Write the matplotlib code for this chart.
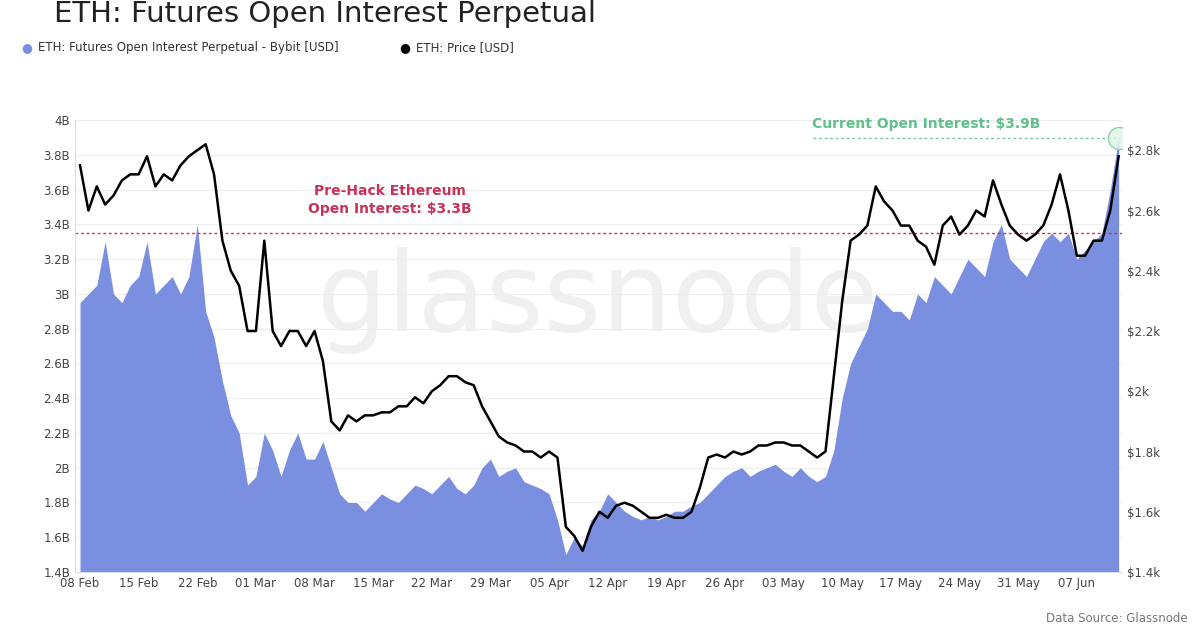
import matplotlib
matplotlib.use("Agg")
import matplotlib.pyplot as plt
import numpy as np
import pandas as pd

dates = pd.date_range("2025-02-08", "2025-06-12", freq="D")
oi = [2.95,3.0,3.05,3.3,3.0,2.95,3.05,3.1,3.3,3.0,3.05,3.1,3.0,3.1,3.4,2.9,2.75,2.5,2.3,2.2,1.9,
      1.95,2.2,2.1,1.95,2.1,2.2,2.05,2.05,2.15,2.0,1.85,1.8,1.8,1.75,1.8,1.85,1.82,1.8,1.85,1.9,1.88,1.85,1.9,1.95,1.88,1.85,1.9,2.0,2.05,1.95,1.98,
      2.0,1.92,1.9,1.88,1.85,1.7,1.5,1.6,1.55,1.7,1.75,1.85,1.8,1.75,1.72,1.7,1.72,1.7,1.72,1.75,1.75,1.78,1.8,1.85,1.9,1.95,1.98,2.0,1.95,1.98,
      2.0,2.02,1.98,1.95,2.0,1.95,1.92,1.95,2.1,2.4,2.6,2.7,2.8,3.0,2.95,2.9,2.9,2.85,3.0,2.95,3.1,3.05,3.0,3.1,3.2,3.15,3.1,3.3,3.4,3.2,3.15,
      3.1,3.2,3.3,3.35,3.3,3.35,3.2,3.25,3.3,3.35,3.6,3.9]
price = [2.75,2.6,2.68,2.62,2.65,2.7,2.72,2.72,2.78,2.68,2.72,2.7,2.75,2.78,2.8,2.82,2.72,2.5,2.4,2.35,2.2,
         2.2,2.5,2.2,2.15,2.2,2.2,2.15,2.2,2.1,1.9,1.87,1.92,1.9,1.92,1.92,1.93,1.93,1.95,1.95,1.98,1.96,2.0,2.02,2.05,2.05,2.03,2.02,1.95,1.9,1.85,1.83,
         1.82,1.8,1.8,1.78,1.8,1.78,1.55,1.52,1.47,1.55,1.6,1.58,1.62,1.63,1.62,1.6,1.58,1.58,1.59,1.58,1.58,1.6,1.68,1.78,1.79,1.78,1.8,1.79,1.8,1.82,
         1.82,1.83,1.83,1.82,1.82,1.8,1.78,1.8,2.05,2.3,2.5,2.52,2.55,2.68,2.63,2.6,2.55,2.55,2.5,2.48,2.42,2.55,2.58,2.52,2.55,2.6,2.58,2.7,2.62,2.55,2.52,
         2.5,2.52,2.55,2.62,2.72,2.6,2.45,2.45,2.5,2.5,2.6,2.78]
x = np.arange(len(dates))
oi_ticks = [1.4,1.6,1.8,2.0,2.2,2.4,2.6,2.8,3.0,3.2,3.4,3.6,3.8,4.0]
oi_labels = ["1.4B","1.6B","1.8B","2B","2.2B","2.4B","2.6B","2.8B","3B","3.2B","3.4B","3.6B","3.8B","4B"]
pr_ticks = [1.4,1.6,1.8,2.0,2.2,2.4,2.6,2.8]
pr_labels = ["$1.4k","$1.6k","$1.8k","$2k","$2.2k","$2.4k","$2.6k","$2.8k"]
prehack = 3.35
current = 3.9

fig = plt.figure(figsize=(12, 6.29), dpi=100)
ax = fig.add_axes([0.0625, 0.0906, 0.8725, 0.7184])
ax.fill_between(x, 1.4, oi, color="#7b8fe0", lw=0)
ax.set_ylim(1.4, 4.0)
ax.set_xlim(-0.6, 124.4)
ax.set_yticks(oi_ticks, oi_labels)
ax.grid(axis="y", color="#eeeeee", lw=0.8)
ax.set_axisbelow(True)
tick_idx = x[::7]
ax.set_xticks(tick_idx, [d.strftime("%d %b") for d in dates[::7]])
for s in ax.spines.values():
    s.set_visible(False)
ax.spines["left"].set_visible(True); ax.spines["left"].set_color("#dddddd")
ax.spines["bottom"].set_visible(True); ax.spines["bottom"].set_color("#dddddd")
ax.tick_params(colors="#444444", labelsize=8.5, length=0)
ax.axhline(prehack, color="#c8325a", ls=(0, (2, 2)), lw=1)
ax.hlines(current, 87.5, 124, color="#77c99a", ls=(0, (2, 2)), lw=1)
ax.text(37, 3.45, "Pre-Hack Ethereum\nOpen Interest: $3.3B", color="#c8325a", fontsize=10,
        fontweight="bold", ha="center", va="bottom", linespacing=1.3)
ax.text(101, 3.98, "Current Open Interest: $3.9B", color="#5fc08a", fontsize=10,
        fontweight="bold", ha="center", va="center")
ax.plot([124], [current], "o", ms=16, mfc="#dff3e6", mec="#77c99a", mew=1, ls="none", alpha=0.8)
ax.text(0.5, 0.6, "glassnode", transform=ax.transAxes, fontsize=80, color="#e6e6e6",
        ha="center", va="center", alpha=0.6, zorder=0.5)

ax2 = ax.twinx()
ax2.plot(x, price, color="black", lw=1.8)
ax2.set_ylim(1.4, 2.9)
ax2.set_yticks(pr_ticks, pr_labels)
for s in ax2.spines.values():
    s.set_visible(False)
ax2.tick_params(colors="#444444", labelsize=8.5, length=0)

fig.text(0.045, 0.978, "ETH: Futures Open Interest Perpetual", fontsize=21, color="#222222", va="center")
fig.text(0.018, 0.925, "●", color="#7b8fe0", fontsize=9, va="center")
fig.text(0.032, 0.925, "ETH: Futures Open Interest Perpetual - Bybit [USD]", fontsize=8.5, color="#333333", va="center")
fig.text(0.333, 0.925, "●", color="black", fontsize=9, va="center")
fig.text(0.347, 0.925, "ETH: Price [USD]", fontsize=8.5, color="#333333", va="center")
fig.text(0.99, 0.006, "Data Source: Glassnode", fontsize=8.5, color="#777777", ha="right", va="bottom")
fig.savefig("out.png", dpi=100)
